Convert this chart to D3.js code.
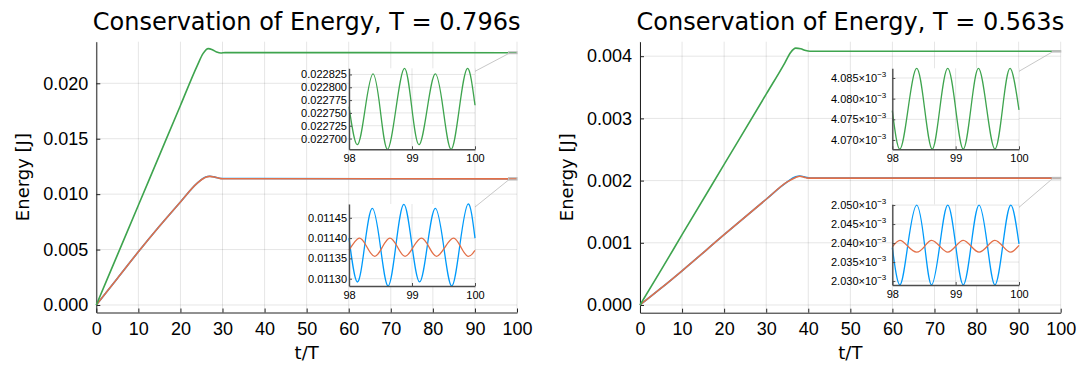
<!DOCTYPE html>
<html>
<head>
<meta charset="utf-8">
<script src="https://cdnjs.cloudflare.com/ajax/libs/d3/7.8.5/d3.min.js"></script>
<style>
  body { margin: 0; background: #fff; }
  svg { display: block; font-family: "DejaVu Sans", sans-serif; }
</style>
</head>
<body>
<svg id="chart" width="1080" height="365"></svg>
<script>
// ---- data ----
const xTicks = [0, 10, 20, 30, 40, 50, 60, 70, 80, 90, 100];
const insetXTicks = [98, 99, 100];

const titles = ['Conservation of Energy, T = 0.796s', 'Conservation of Energy, T = 0.563s'];

// left panel (T = 0.796s)
const leftYTicks = [0, 0.005, 0.010, 0.015, 0.020];
const leftBlue = [[0, 0], [5, 0.0024], [10, 0.0048], [15, 0.0071], [20, 0.0093], [24, 0.0110], [26, 0.01155],
  [27, 0.01162], [28, 0.01156], [29, 0.01146], [30, 0.01141], [98, 0.01139], [100, 0.01139]];
const leftRed = [[0, 0], [5, 0.0024], [10, 0.0048], [15, 0.0071], [20, 0.0093], [24, 0.0110], [26, 0.01153],
  [27, 0.01160], [28, 0.01155], [29, 0.01145], [30, 0.01139], [98, 0.01138], [100, 0.01138]];
const leftGreen = [[0, 0], [5, 0.0045], [10, 0.0090], [15, 0.0135], [20, 0.0180], [24, 0.0216],
  [25.4, 0.0227], [26.6, 0.02313], [27.6, 0.02303], [28.6, 0.02283], [29.6, 0.02273], [30.6, 0.02277],
  [98, 0.02276], [100, 0.02276]];

const leftTopTicks = [0.022700, 0.022725, 0.022750, 0.022775, 0.022800, 0.022825];
const leftTopGreen = [[98, 0.022762], [98.13, 0.022688], [98.255, 0.022757], [98.38, 0.022826], [98.495, 0.022757],
  [98.61, 0.022679], [98.745, 0.022758], [98.88, 0.022837], [98.995, 0.022762], [99.11, 0.022688],
  [99.24, 0.022757], [99.37, 0.022826], [99.495, 0.022757], [99.62, 0.022679], [99.75, 0.022758],
  [99.88, 0.022837], [100, 0.022765]];

const leftBottomTicks = [0.01130, 0.01135, 0.01140, 0.01145];
const leftBottomBlue = [[98, 0.011400], [98.13, 0.011292], [98.25, 0.011383], [98.37, 0.011473], [98.495, 0.011383],
  [98.62, 0.011282], [98.745, 0.011383], [98.87, 0.011483], [98.995, 0.011387], [99.12, 0.011292],
  [99.245, 0.011383], [99.37, 0.011473], [99.5, 0.011383], [99.63, 0.011282], [99.76, 0.011383],
  [99.89, 0.011484], [100, 0.011400]];
const leftBottomRed = [[98, 0.011370], [98.16, 0.011400], [98.285, 0.011378], [98.41, 0.011355], [98.53, 0.011378],
  [98.65, 0.011400], [98.77, 0.011378], [98.89, 0.011355], [99.02, 0.011378], [99.15, 0.011400],
  [99.27, 0.011378], [99.39, 0.011355], [99.525, 0.011378], [99.66, 0.011400], [99.775, 0.011378],
  [99.89, 0.011355], [100, 0.011370]];

// right panel (T = 0.563s)
const rightYTicks = [0, 0.001, 0.002, 0.003, 0.004];
const rightBlue = [[0, 0], [5, 0.00027], [10, 0.00055], [20, 0.00113], [30, 0.00170], [35, 0.00198], [37, 0.00206],
  [38, 0.002075], [39, 0.00206], [40, 0.002045], [41, 0.00204], [100, 0.00204]];
const rightRed = [[0, 0], [5, 0.00027], [10, 0.00055], [20, 0.00113], [30, 0.00170], [35, 0.00198], [37, 0.00205],
  [38, 0.00207], [39, 0.002055], [40, 0.00204], [41, 0.00204], [100, 0.00204]];
const rightGreen = [[0, 0], [5, 0.00056], [10, 0.00113], [20, 0.00226], [30, 0.00339], [34.4, 0.00389],
  [35.8, 0.00406], [37, 0.00413], [38.2, 0.00412], [39.4, 0.00409], [40.4, 0.00408], [100, 0.00408]];

const rightTopTicks = [0.004070, 0.004075, 0.004080, 0.004085];
const rightTopGreen = [[98, 0.0040771], [98.12, 0.0040678], [98.25, 0.0040776], [98.385, 0.0040873], [98.51, 0.0040776],
  [98.63, 0.0040678], [98.75, 0.0040776], [98.875, 0.0040873], [99, 0.0040776], [99.12, 0.0040678],
  [99.24, 0.0040776], [99.36, 0.0040873], [99.49, 0.0040776], [99.62, 0.0040678], [99.74, 0.0040776],
  [99.86, 0.0040873], [100, 0.0040773]];

const rightBottomTicks = [0.002030, 0.002035, 0.002040, 0.002045, 0.002050];
const rightBottomBlue = [[98, 0.0020388], [98.12, 0.0020290], [98.245, 0.0020395], [98.385, 0.0020500], [98.51, 0.0020395],
  [98.62, 0.0020290], [98.75, 0.0020395], [98.875, 0.0020500], [99, 0.0020395], [99.12, 0.0020290],
  [99.245, 0.0020395], [99.37, 0.0020500], [99.5, 0.0020395], [99.62, 0.0020290], [99.745, 0.0020395],
  [99.87, 0.0020500], [100, 0.0020398]];
const rightBottomRed = [[98, 0.0020390], [98.12, 0.0020407], [98.245, 0.00203915], [98.385, 0.0020376], [98.51, 0.00203915],
  [98.62, 0.0020407], [98.75, 0.00203915], [98.875, 0.0020376], [99, 0.00203915], [99.12, 0.0020407],
  [99.245, 0.00203915], [99.37, 0.0020376], [99.5, 0.00203915], [99.62, 0.0020407], [99.745, 0.00203915],
  [99.87, 0.0020376], [100, 0.0020394]];

const colors = { blue: '#009AFA', red: '#E36F47', green: '#3EA44E' };

// ---- helpers ----
const svg = d3.select('#chart');

// plain tick label
const fmt = (p) => (d) => d.toFixed(p);

// "4.085×10⁻³" style tick label
function sciLabel(sel) {
  sel.each(function (d) {
    const t = d3.select(this);
    t.text(null);
    t.append('tspan').text((d * 1e3).toFixed(3) + '×10');
    t.append('tspan').attr('font-size', 8).attr('dy', -5).text('−3');
  });
}

function drawPanel(p) {
  const x = d3.scaleLinear().domain([0, 100]).range([p.left, p.right]);
  const y = d3.scaleLinear().domain(p.yDomain).range([p.bottom, p.top]);
  const g = svg.append('g');

  // grid
  g.append('g').selectAll('line').data(xTicks).enter().append('line')
    .attr('x1', (d) => x(d)).attr('x2', (d) => x(d))
    .attr('y1', p.top).attr('y2', p.bottom)
    .attr('stroke', '#000').attr('stroke-opacity', 0.1).attr('stroke-width', 1);
  g.append('g').selectAll('line').data(p.yTicks).enter().append('line')
    .attr('x1', p.left).attr('x2', p.right)
    .attr('y1', (d) => y(d)).attr('y2', (d) => y(d))
    .attr('stroke', '#000').attr('stroke-opacity', 0.1).attr('stroke-width', 1);

  // axes
  const xAxis = g.append('g').attr('transform', `translate(0,${p.bottom})`)
    .call(d3.axisBottom(x).tickValues(xTicks).tickSize(-4).tickPadding(8).tickSizeOuter(0));
  xAxis.select('.domain').attr('stroke', '#222');
  xAxis.selectAll('.tick line').attr('stroke', '#222');
  xAxis.selectAll('text').attr('font-size', 18).attr('fill', '#000')
    .attr('dy', null).attr('y', 22);

  const yAxis = g.append('g').attr('transform', `translate(${p.left},0)`)
    .call(d3.axisLeft(y).tickValues(p.yTicks).tickFormat(fmt(3)).tickSize(-4).tickPadding(8).tickSizeOuter(0));
  yAxis.select('.domain').attr('stroke', '#222');
  yAxis.selectAll('.tick line').attr('stroke', '#222');
  yAxis.selectAll('text').attr('font-size', 18).attr('fill', '#000');

  // titles / labels
  g.append('text').attr('x', (p.left + p.right) / 2).attr('y', 30)
    .attr('text-anchor', 'middle').attr('font-size', 24).text(p.title);
  g.append('text').attr('x', (p.left + p.right) / 2).attr('y', 359)
    .attr('text-anchor', 'middle').attr('font-size', 18).text('t/T');
  g.append('text')
    .attr('transform', `translate(${p.yLabelX},${(p.top + p.bottom) / 2}) rotate(-90)`)
    .attr('text-anchor', 'middle').attr('font-size', 18).text('Energy [J]');

  // series
  const line = d3.line().x((d) => x(d[0])).y((d) => y(d[1])).curve(d3.curveMonotoneX);
  p.series.forEach((s) => {
    g.append('path').datum(s.data).attr('d', line)
      .attr('fill', 'none').attr('stroke', s.color).attr('stroke-width', 1.6);
  });

  p.insets.forEach((ins) => drawInset(g, ins, x, y));
}

function drawInset(g, ins, mx, my) {
  const x = d3.scaleLinear().domain([98, 100]).range([ins.left, ins.right]);
  const y = d3.scaleLinear().domain(ins.yDomain).range([ins.bottom, ins.top]);

  // lens box on the main plot and connector
  const bx0 = mx(98), bx1 = mx(100);
  const by0 = my(ins.yDomain[1]), by1 = my(ins.yDomain[0]);
  g.append('rect').attr('x', bx0).attr('y', by0).attr('width', bx1 - bx0).attr('height', by1 - by0)
    .attr('fill', 'none').attr('stroke', '#bdbdbd').attr('stroke-width', 1.2);
  g.append('line').attr('x1', ins.right).attr('y1', ins.top + 3).attr('x2', bx0).attr('y2', by1)
    .attr('stroke', '#c8c8c8').attr('stroke-width', 1);

  const ig = g.append('g');
  ig.append('rect').attr('x', ins.left).attr('y', ins.top)
    .attr('width', ins.right - ins.left).attr('height', ins.bottom - ins.top).attr('fill', '#fff');

  ig.append('g').selectAll('line').data(insetXTicks).enter().append('line')
    .attr('x1', (d) => x(d)).attr('x2', (d) => x(d)).attr('y1', ins.top).attr('y2', ins.bottom)
    .attr('stroke', '#000').attr('stroke-opacity', 0.1);
  ig.append('g').selectAll('line').data(ins.yTicks).enter().append('line')
    .attr('x1', ins.left).attr('x2', ins.right).attr('y1', (d) => y(d)).attr('y2', (d) => y(d))
    .attr('stroke', '#000').attr('stroke-opacity', 0.1);

  const line = d3.line().x((d) => x(d[0])).y((d) => y(d[1])).curve(d3.curveNatural);
  ins.series.forEach((s) => {
    ig.append('path').datum(s.data).attr('d', line)
      .attr('fill', 'none').attr('stroke', s.color).attr('stroke-width', 1.3);
  });

  const xa = ig.append('g').attr('transform', `translate(0,${ins.bottom})`)
    .call(d3.axisBottom(x).tickValues(insetXTicks).tickFormat(d3.format('d')).tickSize(-3).tickPadding(4).tickSizeOuter(0));
  xa.select('.domain').attr('stroke', '#4d4d4d').attr('stroke-width', 1.4);
  xa.selectAll('.tick line').attr('stroke', '#4d4d4d');
  xa.selectAll('text').attr('font-size', 11).attr('fill', '#000').attr('dy', null).attr('y', 13);

  const ya = ig.append('g').attr('transform', `translate(${ins.left},0)`)
    .call(d3.axisLeft(y).tickValues(ins.yTicks).tickSize(-3).tickPadding(ins.sci ? 6 : 2).tickSizeOuter(0));
  ya.select('.domain').attr('stroke', '#4d4d4d').attr('stroke-width', 1.4);
  ya.selectAll('.tick line').attr('stroke', '#4d4d4d');
  const yt = ya.selectAll('text').attr('font-size', 11).attr('fill', '#000');
  if (ins.sci) yt.call(sciLabel);
  else yt.text((d) => d.toFixed(ins.digits));
}

drawPanel({
  title: titles[0], left: 96.3, right: 517, top: 41.7, bottom: 312.5,
  yDomain: [-0.000677, 0.023753], yTicks: leftYTicks, yLabelX: 29,
  series: [
    { data: leftBlue, color: colors.blue },
    { data: leftRed, color: colors.red },
    { data: leftGreen, color: colors.green }
  ],
  insets: [
    { left: 349, right: 475, top: 68.3, bottom: 149.3, yDomain: [0.022679, 0.022837],
      yTicks: leftTopTicks, digits: 6, sci: false,
      series: [{ data: leftTopGreen, color: colors.green }] },
    { left: 349, right: 475, top: 204, bottom: 286, yDomain: [0.011282, 0.011484],
      yTicks: leftBottomTicks, digits: 5, sci: false,
      series: [{ data: leftBottomBlue, color: colors.blue }, { data: leftBottomRed, color: colors.red }] }
  ]
});

drawPanel({
  title: titles[1], left: 640, right: 1060.7, top: 41.7, bottom: 312.7,
  yDomain: [-0.000124, 0.004233], yTicks: rightYTicks, yLabelX: 573,
  series: [
    { data: rightBlue, color: colors.blue },
    { data: rightRed, color: colors.red },
    { data: rightGreen, color: colors.green }
  ],
  insets: [
    { left: 892.3, right: 1019, top: 68.3, bottom: 149.3, yDomain: [0.00406775, 0.00408734],
      yTicks: rightTopTicks, sci: true,
      series: [{ data: rightTopGreen, color: colors.green }] },
    { left: 892.3, right: 1019, top: 204.3, bottom: 285, yDomain: [0.00202896, 0.0020502],
      yTicks: rightBottomTicks, sci: true,
      series: [{ data: rightBottomBlue, color: colors.blue }, { data: rightBottomRed, color: colors.red }] }
  ]
});
</script>
</body>
</html>
